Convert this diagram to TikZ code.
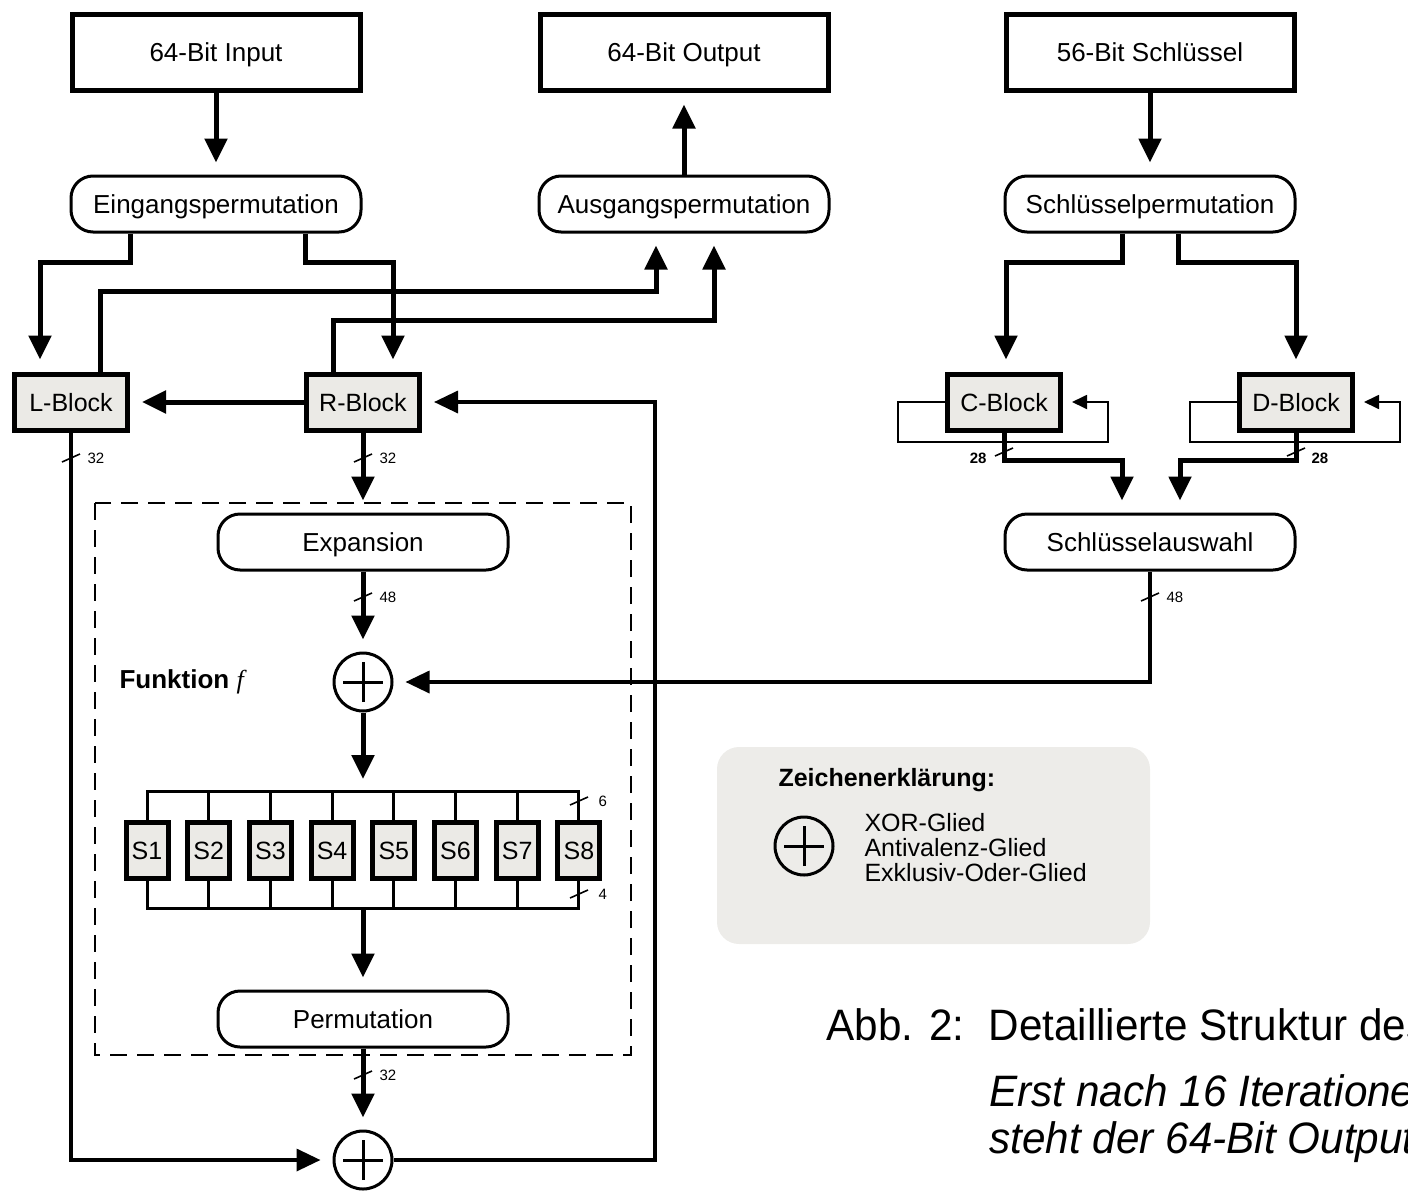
\documentclass[tikz,border=0pt]{standalone}
\usepackage{fontspec}
\setmainfont{Liberation Sans}
\newfontfamily\serifface{Liberation Serif}
\newfontfamily\capfont[FakeStretch=0.96]{Liberation Sans}
\usetikzlibrary{arrows.meta}
\newcommand\setfs[2]{\fontsize{#1}{#2}\selectfont}
\definecolor{blockgray}{RGB}{235,234,230}
\definecolor{legendgray}{RGB}{237,236,233}
\tikzset{
  iobox/.style={draw, line width=5pt, minimum width=288pt, minimum height=76pt, inner sep=0pt,
    font=\setfs{26}{30}, text height=18.5pt, text depth=0pt},
  roundbox/.style={draw, line width=3pt, rounded corners=22pt, minimum width=290pt, minimum height=56pt, inner sep=0pt,
    font=\setfs{26}{30}, text height=18.5pt, text depth=0pt},
  blk/.style={draw, line width=5pt, fill=blockgray, minimum width=113pt, minimum height=56pt, inner sep=0pt,
    font=\setfs{25}{30}, text height=18pt, text depth=0pt},
  sbox/.style={draw, line width=5pt, fill=blockgray, minimum width=42pt, minimum height=56pt, inner sep=0pt,
    font=\setfs{25}{30}, text height=18pt, text depth=0pt},
  xor/.style={circle, draw, line width=3pt, minimum size=58pt, inner sep=0pt,
    path picture={\draw[line width=3pt] ([xshift=-20pt]path picture bounding box.center) -- ([xshift=20pt]path picture bounding box.center)
      ([yshift=-20pt]path picture bounding box.center) -- ([yshift=20pt]path picture bounding box.center);}},
  bigtip/.style={-{Triangle[width=22pt,length=24pt]}, shorten >=12pt},
  wire/.style={line width=5pt},
  midwire/.style={line width=3.5pt},
  buswire/.style={line width=3pt},
  loopwire/.style={line width=1.8pt},
  smalltip/.style={-{Triangle[width=14pt,length=15pt]}, shorten >=9pt},
  frame/.style={line width=1.5pt, dash pattern=on 17pt off 10pt},
  busnum/.style={font=\setfs{15}{17}},
  captext/.style={anchor=base west, font=\capfont\setfs{44}{50}},
}
% width marker on a bus: slash across the wire plus the bit count
\newcommand\busmark[4]{%
  \draw[line width=1.6pt] (#1-9,#2+4) .. controls (#1-2,#2+1) and (#1+2,#2-1) .. (#1+9,#2-4);
  \node[busnum, #4] at (#1,#2) {#3};}
\begin{document}
\begin{tikzpicture}[x=1pt, y=-1pt]
\useasboundingbox (0,0) rectangle (1408,1191);

% ---- legend panel (background) ----
\fill[legendgray, rounded corners=22pt] (717,747) rectangle (1150,944);

% ---- top row ----
\node[iobox] (in)  at (216,52)  {64-Bit Input};
\node[iobox] (out) at (684,52)  {64-Bit Output};
\node[iobox] (key) at (1150,52) {56-Bit Schlüssel};

\node[roundbox] (ip) at (216,204)  {Eingangspermutation};
\node[roundbox] (op) at (684,204)  {Ausgangspermutation};
\node[roundbox] (kp) at (1150,204) {Schlüsselpermutation};

% ---- halves ----
\node[blk] (L) at (71,402)   {L-Block};
\node[blk] (R) at (363,402)  {R-Block};
\node[blk] (C) at (1004,402) {C-Block};
\node[blk] (D) at (1296,402) {D-Block};

% ---- round function f ----
\draw[frame] (95,503) rectangle (631,1055);
\node[roundbox] (exp) at (363,542)  {Expansion};
\node[roundbox] (ka)  at (1150,542) {Schlüsselauswahl};
\node[xor] (x1) at (363,682) {};
\node[anchor=west, font=\bfseries\setfs{26}{30}] (fk) at (116,682) {Funktion {\serifface\itshape\mdseries f}};
\foreach \i in {1,...,8}
  \node[sbox] (s\i) at ({147+61.7*(\i-1)},850) {S\i};
\coordinate (busin)  at (363,791);
\coordinate (busout) at (363,908);
\node[roundbox] (pm) at (363,1019) {Permutation};
\node[xor] (x2) at (363,1160) {};

% ---- connectors: top ----
\draw[wire, bigtip] (in) -- (ip);
\draw[wire, bigtip] (op) -- (out);
\draw[wire, bigtip] (key) -- (kp);

\draw[wire, bigtip] ([xshift=-86pt]ip.south) |- (40,262) -- ([xshift=-31pt]L.north);
\draw[wire, bigtip] ([xshift=89pt]ip.south) |- (393,262) -- ([xshift=30pt]R.north);
\draw[wire, bigtip] ([xshift=29pt]L.north) |- (656,291) -- ([xshift=-28pt]op.south);
\draw[wire, bigtip] ([xshift=-30pt]R.north) |- (714,320) -- ([xshift=30pt]op.south);
\draw[wire, bigtip] (R) -- (L);

% ---- connectors: Feistel round ----
\draw[midwire, bigtip] (L.south) |- (x2);
\draw[midwire, bigtip] (x2) -| (655,402) -- (R);
\draw[wire, bigtip] (R) -- (exp);
\draw[wire, bigtip] (exp) -- (x1);
\draw[wire, bigtip] (x1) -- (busin);
\draw[buswire] (s1.north) |- (busin) -| (s8.north);
\draw[buswire] (s1.south) |- (busout) -| (s8.south);
\foreach \i in {2,...,7} {
  \draw[buswire] (s\i.north) -- (s\i.north |- busin);
  \draw[buswire] (s\i.south) -- (s\i.south |- busout);
}
\draw[wire, bigtip] (busout) -- (pm);
\draw[wire, bigtip] (pm) -- (x2);

% ---- connectors: key schedule ----
\draw[wire, bigtip] ([xshift=-28pt]kp.south) |- (1006,262) -- ([xshift=2pt]C.north);
\draw[wire, bigtip] ([xshift=28pt]kp.south) |- (1296,262) -- (D.north);
\draw[loopwire, smalltip] (C.west) -| (898,442) -| (1108,402) -- (C);
\draw[loopwire, smalltip] (D.west) -| (1190,442) -| (1400,402) -- (D);
\draw[wire, bigtip] (C.south) |- (1122,460) -- ([xshift=-28pt]ka.north);
\draw[wire, bigtip] (D.south) |- (1180,460) -- ([xshift=30pt]ka.north);
\draw[midwire, bigtip] (ka) |- (x1);

% ---- bus widths ----
\busmark{71}{458}{32}{anchor=west, xshift=13pt}
\busmark{363}{458}{32}{anchor=west, xshift=13pt}
\busmark{363}{597}{48}{anchor=west, xshift=13pt}
\busmark{1150}{597}{48}{anchor=west, xshift=13pt}
\busmark{579}{801}{6}{anchor=west, xshift=16pt}
\busmark{579}{894}{4}{anchor=west, xshift=16pt}
\busmark{363}{1075}{32}{anchor=west, xshift=13pt}
\busmark{1004}{452}{\textbf{28}}{anchor=east, xshift=-14pt, yshift=-6pt}
\busmark{1296}{452}{\textbf{28}}{anchor=west, xshift=12pt, yshift=-6pt}

% ---- legend ----
\node[anchor=base west, font=\bfseries\setfs{25}{29}] (lt) at (775,786) {Zeichenerklärung:};
\node[xor] (lx) at (804,846) {};
\node[anchor=west, align=left, font=\setfs{25}{25}] (ltx) at (861,848) {XOR-Glied\\Antivalenz-Glied\\Exklusiv-Oder-Glied};

% ---- caption ----
\node[captext] (ca) at (823,1040) {Abb. 2:};
\node[captext] (cb) at (985,1040) {Detaillierte Struktur des};
\node[captext, font=\capfont\itshape\setfs{44}{50}] (cc) at (986,1106) {Erst nach 16 Iterationen};
\node[captext, font=\capfont\itshape\setfs{44}{50}] (cd) at (986,1153) {steht der 64-Bit Output};
\end{tikzpicture}
\end{document}
